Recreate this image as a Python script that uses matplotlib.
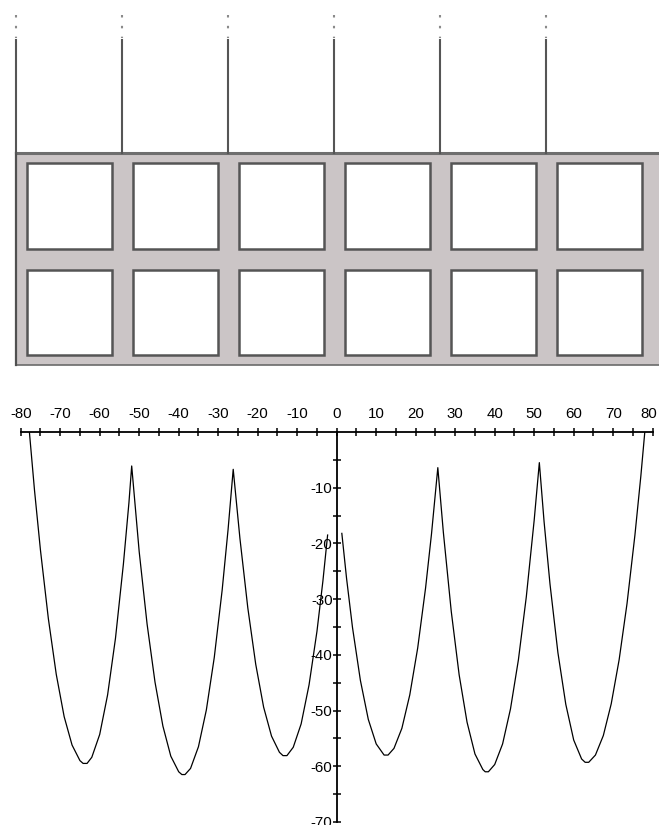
import numpy as np
import matplotlib
matplotlib.use("Agg")
import matplotlib.pyplot as plt
from matplotlib.patches import Rectangle
from matplotlib.transforms import ScaledTranslation

# curve, left of the gap at x=0
left_x = [-77.8, -76.5, -75.0, -73.0, -71.0, -69.0, -67.0, -65.0, -64.2, -63.2,
          -62.0, -60.0, -58.0, -56.0, -54.0, -52.6, -51.9,
          -50.0, -48.0, -46.0, -44.0, -42.0, -40.0, -39.2, -38.4,
          -37.0, -35.0, -33.0, -31.0, -29.0, -27.5, -26.2,
          -24.5, -22.5, -20.5, -18.5, -16.5, -14.5, -13.6, -12.6,
          -11.0, -9.0, -7.0, -5.0, -3.5, -2.3]
left_y = [0.0, -10.5, -21.2, -33.5, -43.5, -51.1, -56.2, -59.0, -59.5, -59.5,
          -58.4, -54.3, -47.2, -37.0, -23.7, -12.7, -6.1,
          -21.5, -34.5, -44.9, -52.8, -58.2, -61.0, -61.5, -61.5,
          -60.4, -56.5, -49.9, -40.5, -28.4, -17.5, -6.7,
          -19.1, -31.6, -41.7, -49.4, -54.6, -57.5, -58.1, -58.1,
          -56.6, -52.4, -45.4, -35.8, -26.8, -18.5]

# right of the gap
right_x = [1.3, 2.5, 4.0, 6.0, 8.0, 10.0, 12.0, 13.0,
           14.5, 16.5, 18.5, 20.5, 22.5, 24.0, 25.6,
           27.0, 29.0, 31.0, 33.0, 35.0, 37.0, 37.6, 38.4,
           40.0, 42.0, 44.0, 46.0, 48.0, 50.0, 51.3,
           52.5, 54.0, 56.0, 58.0, 60.0, 62.0, 62.9, 63.8,
           65.5, 67.5, 69.5, 71.5, 73.5, 75.5, 77.0, 78.0]
right_y = [-18.2, -26.3, -35.1, -44.6, -51.6, -56.0, -58.0, -58.0,
           -56.8, -53.2, -47.2, -38.8, -28.0, -18.3, -6.4,
           -18.0, -32.2, -43.6, -52.1, -57.8, -60.6, -61.0, -61.0,
           -59.7, -56.0, -49.7, -40.9, -29.6, -15.8, -5.5,
           -16.1, -27.3, -39.6, -48.9, -55.3, -58.7, -59.3, -59.3,
           -58.0, -54.5, -48.8, -40.9, -30.8, -18.5, -7.9, 0.0]

x_labels = [-80, -70, -60, -50, -40, -30, -20, -10, 0, 10, 20, 30, 40, 50, 60, 70, 80]
y_labels = [-10, -20, -30, -40, -50, -60, -70]

plt.rcParams['font.family'] = ['Liberation Sans Narrow', 'Liberation Sans', 'DejaVu Sans']

W, H = 659, 825
fig = plt.figure(figsize=(W / 100, H / 100), dpi=100)
fig.patch.set_facecolor('white')

# ---- top diagram, drawn in pixel coords ----
top = fig.add_axes([0, 0, 1, 1])
top.set_xlim(0, W)
top.set_ylim(H, 0)
top.axis('off')

box_left, box_top, box_bottom = 15.5, 153, 365
top.add_patch(Rectangle((box_left, box_top), W - box_left, box_bottom - box_top,
                        facecolor='#cbc5c6', edgecolor='none'))
top.plot([box_left, W], [box_top, box_top], color='#6e6e6e', lw=2.2)
top.plot([box_left, W], [box_bottom, box_bottom], color='#6a6a6a', lw=1.2)
top.plot([box_left, box_left], [box_top, box_bottom], color='#505050', lw=1.6)

pitch = 106
sq = 85.5
for col in range(6):
    x0 = 26.5 + col * pitch
    for y0 in (163, 269.5):
        top.add_patch(Rectangle((x0, y0), sq, sq, facecolor='white',
                                edgecolor='#555555', lw=1.8))
    xl = box_left if col == 0 else x0 - 10.5
    top.plot([xl, xl], [40, box_top], color='#555555', lw=1.5)
    top.plot([xl, xl], [15, 38], color='#8a8a8a', lw=1.5, linestyle=(0, (1.2, 4)))

# ---- bottom plot ----
ppu_x = 3.95
ppu_y = 5.57
x0_px = 336.7
y0_px = 432
xmin, xmax = -81, 81
ymin, ymax = -70, 0
left = (x0_px + xmin * ppu_x) / W
width = (xmax - xmin) * ppu_x / W
bottom = (H - (y0_px - ymin * ppu_y)) / H
height = (ymax - ymin) * ppu_y / H
ax = fig.add_axes([left, bottom, width, height])
ax.patch.set_alpha(0)

ax.plot(left_x, left_y, color='black', lw=0.9)
ax.plot(right_x, right_y, color='black', lw=0.9)

ax.set_xlim(xmin, xmax)
ax.set_ylim(ymin, ymax)

for s in ('bottom', 'right'):
    ax.spines[s].set_visible(False)
ax.spines['top'].set_bounds(-80, 80)
ax.spines['top'].set_linewidth(1.3)
ax.spines['left'].set_position(('data', 0))
ax.spines['left'].set_bounds(-70, 0)
ax.spines['left'].set_linewidth(1.3)

ax.xaxis.tick_top()
ax.set_xticks(x_labels)
ax.set_xticklabels([str(v) for v in x_labels])
ax.set_xticks(np.arange(-75, 80, 10), minor=True)
ax.set_yticks(y_labels)
ax.set_yticklabels([str(v) for v in y_labels])
ax.set_yticks(np.arange(-65, 0, 10), minor=True)

ax.tick_params(axis='x', which='both', direction='inout', length=6, width=1.1,
               labelsize=10.8, pad=5)
ax.tick_params(axis='y', which='both', direction='inout', length=6, width=1.1,
               labelsize=10.8, pad=0)

# keep the last label inside the picture, as in the reference
last = ax.get_xticklabels()[-1]
last.set_transform(last.get_transform() + ScaledTranslation(-4 / 100, 0, fig.dpi_scale_trans))

fig.savefig('out.png', dpi=100, facecolor='white')
